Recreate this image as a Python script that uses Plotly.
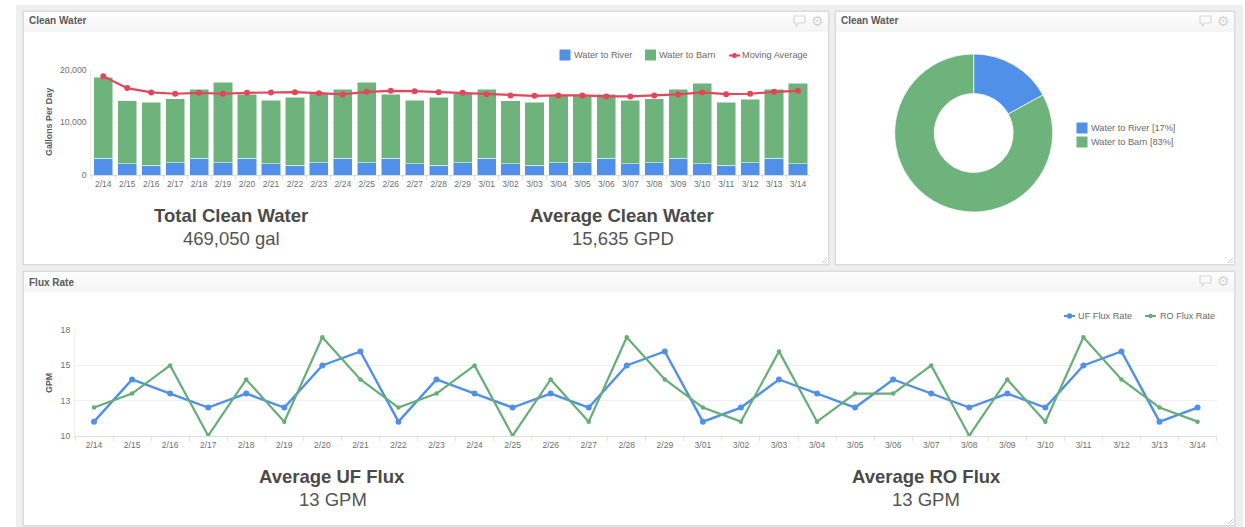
import plotly.graph_objects as go

W, H = 1245, 527

dates = ["2/14","2/15","2/16","2/17","2/18","2/19","2/20","2/21","2/22","2/23","2/24","2/25","2/26","2/27","2/28",
         "2/29","3/01","3/02","3/03","3/04","3/05","3/06","3/07","3/08","3/09","3/10","3/11","3/12","3/13","3/14"]
water_to_river = [3200,2100,1830,2330,3200,2330,3200,2100,1830,2330,3200,2330,3200,2100,1830,
                  2330,3200,2100,1830,2330,2330,3200,2100,2330,3200,2100,1830,2330,3200,2100]
water_to_barn = [15350,11970,11970,12120,13080,15270,12070,12100,12870,13120,13080,15270,12070,12100,12870,
                 13120,13080,11970,11970,12670,12670,12070,12100,12120,13080,15250,11970,11990,13080,15250]
moving_average = [18740,16470,15650,15400,15580,15400,15580,15650,15700,15520,15270,15770,15960,15900,15700,
                  15580,15330,15080,15010,15080,15080,14890,14890,15080,15270,15650,15330,15400,15770,15960]
uf_flux = [11,14,13,12,13,12,15,16,11,14,13,12,13,12,15,16,11,12,14,13,12,14,13,12,13,12,15,16,11,12]
ro_flux = [12,13,15,10,14,11,17,14,12,13,15,10,14,11,17,14,12,11,16,11,13,13,15,10,14,11,17,14,12,11]
pie_labels = ["Water to River", "Water to Barn"]
pie_values = [17, 83]
flux_ticks = [10, 12.5, 15, 17.5]
flux_tick_text = ["10", "13", "15", "18"]

BLUE, GREEN, RED = "#5190E9", "#6FB37C", "#E2465A"
LINE_GREEN = "#66AE76"
FONT = "Liberation Sans"
TICK = "#6e6e6e"

def px(x): return x / W
def py(y): return 1 - y / H

shapes, annots = [], []

def rect(x0, y0, x1, y1, fill, line=None, lw=0):
    shapes.append(dict(type="rect", xref="paper", yref="paper", x0=px(x0), x1=px(x1), y0=py(y0), y1=py(y1),
                       fillcolor=fill, line=dict(color=line or fill, width=lw), layer="below"))

def text(x, y, s, size, color="#4a4a4a", bold=False, anchor="center", angle=0):
    annots.append(dict(xref="paper", yref="paper", x=px(x), y=py(y), text=f"<b>{s}</b>" if bold else s, showarrow=False,
                       xanchor=anchor, yanchor="middle", textangle=angle,
                       font=dict(family=FONT, size=size, color=color), borderpad=0, borderwidth=0))

def panel(x0, y0, x1, y1, title, title_dy):
    rect(x0 - 1.5, y0 - 1.5, x1 + 1.5, y1 + 1.5, "#dcdcdc")
    rect(x0, y0, x1, y1, "#ffffff")
    for i in range(20):
        v = 253 - int(i * 0.45)
        rect(x0, y0 + i, x1, y0 + i + 1, f"rgb({v},{v},{v})")
    text(x0 + 5, y0 + title_dy, title, 10, "#5a5a5a", bold=True, anchor="left")
    # comment bubble and gear icons
    bx, by = x1 - 34, y0 + 4
    path = (f"M {px(bx)} {py(by)} L {px(bx+11)} {py(by)} L {px(bx+11)} {py(by+7)} L {px(bx+5)} {py(by+7)} "
            f"L {px(bx+2)} {py(by+10)} L {px(bx+2)} {py(by+7)} L {px(bx)} {py(by+7)} Z")
    shapes.append(dict(type="path", xref="paper", yref="paper", path=path, line=dict(color="#d8d8d8", width=1.2),
                       fillcolor="rgba(0,0,0,0)"))
    annots.append(dict(xref="paper", yref="paper", x=px(x1 - 10.5), y=py(y0 + 8.5), text="\u2699", showarrow=False,
                       xanchor="center", yanchor="middle",
                       font=dict(family="DejaVu Sans", size=14, color="#d4d4d4")))
    # resize handle
    shapes.append(dict(type="path", xref="paper", yref="paper",
                       path=f"M {px(x1-6)} {py(y1-1)} L {px(x1-1)} {py(y1-6)} M {px(x1-3)} {py(y1-1)} L {px(x1-1)} {py(y1-3)}",
                       line=dict(color="#cccccc", width=1)))

# page background
rect(16, 5, 1243, 527, "#efefef")
panel(24, 12, 828, 264, "Clean Water", 9)
panel(836, 12, 1234, 264, "Clean Water", 9)
panel(24, 272, 1234, 525, "Flux Rate", 10)

fig = go.Figure()
fig.add_bar(x=dates, y=water_to_river, name="Water to River", marker=dict(color=BLUE, line=dict(color="white", width=0.5)), xaxis="x", yaxis="y")
fig.add_bar(x=dates, y=water_to_barn, name="Water to Barn", marker=dict(color=GREEN, line=dict(color="white", width=0.5)), xaxis="x", yaxis="y")
fig.add_scatter(x=dates, y=moving_average, name="Moving Average", mode="lines+markers", line=dict(color=RED, width=2.2),
                marker=dict(color=RED, size=6), xaxis="x", yaxis="y")
fig.add_scatter(x=dates, y=uf_flux, name="UF Flux Rate", mode="lines+markers", line=dict(color=BLUE, width=2.4),
                marker=dict(color=BLUE, size=6), xaxis="x2", yaxis="y2")
fig.add_scatter(x=dates, y=ro_flux, name="RO Flux Rate", mode="lines+markers", line=dict(color=LINE_GREEN, width=2.2),
                marker=dict(color=LINE_GREEN, size=4.5), xaxis="x2", yaxis="y2")
fig.add_pie(labels=pie_labels, values=pie_values, hole=0.5, sort=False, direction="clockwise", rotation=0,
            marker=dict(colors=[BLUE, GREEN], line=dict(color="white", width=0.7)), textinfo="none",
            domain=dict(x=[px(973.7 - 79), px(973.7 + 79)], y=[py(133 + 79), py(133 - 79)]), showlegend=False)

x_common = dict(type="category", tickmode="array", tickvals=dates, ticktext=dates, tickson="boundaries", ticks="outside", ticklen=4,
                tickcolor="#e2e2e2", showline=True, linecolor="#dddddd", linewidth=1, showgrid=False, range=[-0.5, 29.5],
                tickfont=dict(family=FONT, size=8.5, color=TICK), tickangle=0, automargin=False, fixedrange=True,
                ticklabelstandoff=1)
y_common = dict(showline=True, linecolor="#eeeeee", linewidth=1, gridcolor="#efefef", gridwidth=1, zeroline=False, ticks="",
                tickfont=dict(family=FONT, size=8.7, color=TICK), automargin=False, fixedrange=True, ticklabelstandoff=2)

fig.update_layout(
    width=W, height=H, margin=dict(l=0, r=0, t=0, b=0), autosize=False,
    paper_bgcolor="white", plot_bgcolor="rgba(0,0,0,0)", showlegend=False, barmode="stack", bargap=0.2,
    font=dict(family=FONT),
    xaxis=dict(x_common, domain=[px(91.3), px(810)], anchor="y"),
    yaxis=dict(y_common, domain=[py(175), py(69.5)], anchor="x", range=[0, 20000], tickmode="array",
               tickvals=[0, 10000, 20000], ticktext=["0", "10,000", "20,000"]),
    xaxis2=dict(x_common, domain=[px(75), px(1216.6)], anchor="y2"),
    yaxis2=dict(y_common, domain=[py(435.7), py(330.3)], anchor="x2", range=[10, 17.5], tickmode="array",
                tickvals=flux_ticks, ticktext=flux_tick_text),
)

text(49, 122, "Gallons Per Day", 8.9, "#5a5a5a", bold=True, angle=-90)
text(49, 383, "GPM", 8.9, "#5a5a5a", bold=True, angle=-90)

# legends
def swatch(x, y, color):
    rect(x, y - 5.5, x + 11, y + 5.5, color)

def legend_line(x, y, color, ms):
    shapes.append(dict(type="line", xref="paper", yref="paper", x0=px(x), x1=px(x + 11), y0=py(y), y1=py(y),
                       line=dict(color=color, width=2)))
    shapes.append(dict(type="circle", xref="paper", yref="paper", x0=px(x + 5.5 - ms), x1=px(x + 5.5 + ms),
                       y0=py(y + ms), y1=py(y - ms), fillcolor=color, line=dict(color=color, width=0)))

LEG = "#6a6a6a"
swatch(559.5, 55, BLUE); text(574, 55, "Water to River", 9.2, LEG, anchor="left")
swatch(645, 55, GREEN); text(659, 55, "Water to Barn", 9.2, LEG, anchor="left")
legend_line(729, 55.5, RED, 2.5); text(742, 55, "Moving Average", 9.2, LEG, anchor="left")
legend_line(1064, 316, BLUE, 2.8); text(1078, 316, "UF Flux Rate", 9.2, LEG, anchor="left")
legend_line(1145, 316, LINE_GREEN, 2.2); text(1160, 316, "RO Flux Rate", 9.1, LEG, anchor="left")
swatch(1076.5, 128, BLUE); text(1091, 128, "Water to River [17%]", 9.2, LEG, anchor="left")
swatch(1076.5, 142, GREEN); text(1091, 142, "Water to Barn [83%]", 9.2, LEG, anchor="left")

# summary text
for cx, cy, head, val in [(231, 215.5, "Total Clean Water", "469,050 gal"), (622, 215.5, "Average Clean Water", "15,635 GPD"),
                          (332, 476.5, "Average UF Flux", "13 GPM"), (926, 476.5, "Average RO Flux", "13 GPM")]:
    text(cx, cy, head, 18.5, "#4a4a4a", bold=True)
    text(cx + 0.5, cy + 22.5, val, 18.5, "#555555")

fig.update_layout(shapes=shapes, annotations=annots)
fig.write_html("out.html", post_script="document.body.style.margin='0';document.body.style.overflow='hidden';",
               config=dict(displayModeBar=False))
